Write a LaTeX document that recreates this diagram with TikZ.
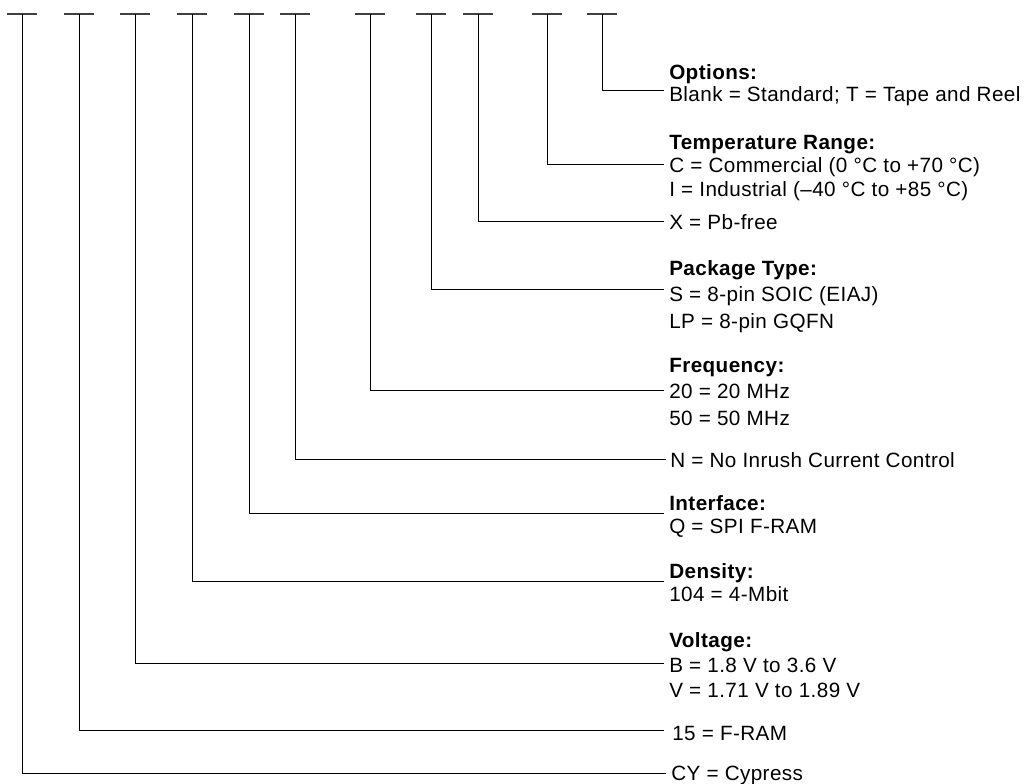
\documentclass[tikz,border=0pt]{standalone}
\usepackage{fontspec}
\setmainfont{Liberation Sans}[LetterSpace=2.0]
\begin{document}
\begin{tikzpicture}[x=0.75pt,y=-0.75pt,
  lbl/.style={anchor=base west, inner sep=0pt, font=\fontsize{15.5}{18}\selectfont},
  ttl/.style={anchor=base west, inner sep=0pt, font=\fontsize{15.5}{18}\selectfont\bfseries},
  wire/.style={line width=0.75pt, black},
  bar/.style={line width=0.9pt, black!75}]
\useasboundingbox (0,0) rectangle (1025,784);
% top tick coordinates
\foreach \n/\x in {cy/22, fr/79, vol/135, den/192, ifc/249, nn/295, frq/370, pkg/431, pb/478, tmp/547, opt/602}{
  \coordinate (t\n) at (\x,14);
  \draw[bar] ([xshift=-11.6pt]t\n) -- ([xshift=11.6pt]t\n);
}
% line ends
\coordinate (eopt) at (664,91);
\coordinate (etmp) at (664,165);
\coordinate (epb)  at (664,222);
\coordinate (epkg) at (664,290);
\coordinate (efrq) at (664,391);
\coordinate (enn)  at (666,459);
\coordinate (eifc) at (664,513);
\coordinate (eden) at (664,581);
\coordinate (evol) at (664,663);
\coordinate (efr)  at (664,730);
\coordinate (ecy)  at (666,773);
% texts
\node[ttl] (opt0) at (669,80) {Options:};
\node[lbl] (opt1) at (669,102) {Blank = Standard; T = Tape and Reel};
\node[ttl] (tmp0) at (669,150) {Temperature Range:};
\node[lbl] (tmp1) at (669,173) {C = Commercial (0 °C to +70 °C)};
\node[lbl] (tmp2) at (669,197) {I = Industrial (–40 °C to +85 °C)};
\node[lbl] (pb1) at (669,229.5) {X = Pb-free};
\node[ttl] (pkg0) at (669,276) {Package Type:};
\node[lbl] (pkg1) at (669,302) {S = 8-pin SOIC (EIAJ)};
\node[lbl] (pkg2) at (669,329) {LP = 8-pin GQFN};
\node[ttl] (frq0) at (669,373) {Frequency:};
\node[lbl] (frq1) at (669,398) {20 = 20 MHz};
\node[lbl] (frq2) at (669,425) {50 = 50 MHz};
\node[lbl] (nn1) at (670,467) {N = No Inrush Current Control};
\node[ttl] (ifc0) at (669,510) {Interface:};
\node[lbl] (ifc1) at (669,533.5) {Q = SPI F-RAM};
\node[ttl] (den0) at (669,578.5) {Density:};
\node[lbl] (den1) at (669,601.5) {104 = 4-Mbit};
\node[ttl] (vol0) at (669,647) {Voltage:};
\node[lbl] (vol1) at (669,672) {B = 1.8 V to 3.6 V};
\node[lbl] (vol2) at (669,697.5) {V = 1.71 V to 1.89 V};
\node[lbl] (fr1) at (672,740) {15 = F-RAM};
\node[lbl] (cy1) at (671,780) {CY = Cypress};
% connectors
\foreach \n in {cy, fr, vol, den, ifc, nn, frq, pkg, pb, tmp, opt}{
  \draw[wire] (t\n) |- (e\n);
}
\end{tikzpicture}
\end{document}
